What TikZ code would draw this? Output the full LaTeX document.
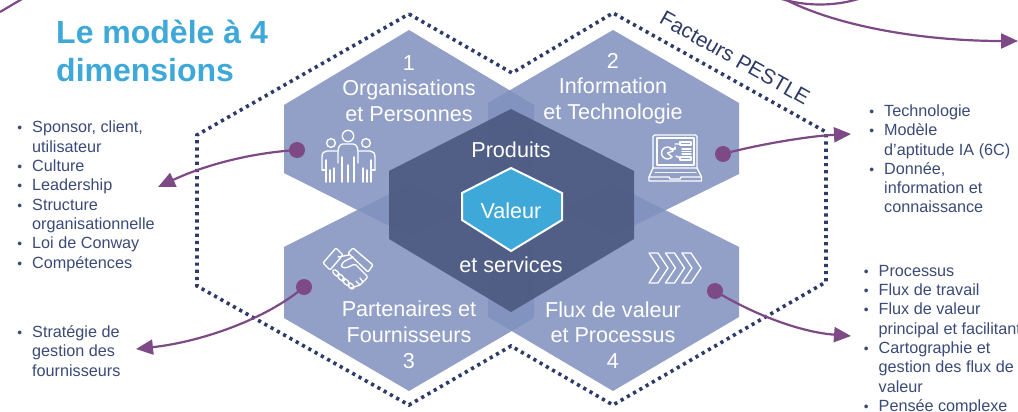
\documentclass[tikz,border=0pt]{standalone}
\usepackage{fontspec}
\setmainfont{Liberation Sans}
\usetikzlibrary{arrows.meta}
\definecolor{hexlight}{HTML}{8191BF}
\definecolor{hexdark}{HTML}{49577F}
\definecolor{hexblue}{HTML}{3EA9D8}
\definecolor{dotnavy}{HTML}{2E3A68}
\definecolor{listnavy}{HTML}{3B4A78}
\definecolor{plum}{HTML}{7D4A85}
\newcommand{\bul}{\leavevmode\llap{\scalebox{.85}{\textbullet}\hspace{10pt}}}
\tikzset{
  lighthex/.style={fill=hexlight,fill opacity=.86},
  darkhex/.style={fill=hexdark,fill opacity=.88},
  hexlabel/.style={text=white,inner sep=0pt,align=center,font=\fontsize{21.6}{25.8}\selectfont},
  listtext/.style={text=listnavy,inner sep=0pt,anchor=north west,align=left,font=\fontsize{16.2}{19.3}\selectfont},
  pin/.style={circle,fill=plum,draw=none,minimum size=16pt,inner sep=0pt},
  link/.style={draw=plum,line width=2.2pt},
  linkarrow/.style={link,-{Triangle[length=17pt,width=15pt]}},
  icon/.style={draw=white,line width=1.35pt,line join=round,line cap=round}
}
\begin{document}
\begin{tikzpicture}[x=1pt,y=-1pt]
\useasboundingbox (0,0) rectangle (1018,412);
\clip (0,0) rectangle (1018,412);
\fill[white] (0,0) rectangle (1018,412);

% hexagons
\path[lighthex] (409,30) -- (534,105) -- (534,173) -- (409,236) -- (284,173) -- (284,105) -- cycle;
\path[lighthex] (613,30) -- (739,103) -- (739,174) -- (613,236) -- (488,174) -- (488,103) -- cycle;
\path[lighthex] (409,184) -- (534,247) -- (534,318) -- (409,391) -- (284,318) -- (284,247) -- cycle;
\path[lighthex] (613,184) -- (739,247) -- (739,317) -- (613,391) -- (488,317) -- (488,247) -- cycle;
\path[darkhex] (511,109) -- (634,171) -- (634,239) -- (511,312) -- (389,239) -- (389,171) -- cycle;
\path[fill=hexblue,draw=white,line width=2pt] (511,168) -- (562,193) -- (562,220) -- (511,251) -- (462,220) -- (462,193) -- cycle;

% dotted boundary
\draw[dotnavy,line width=3.6pt,dash pattern=on 3.2pt off 4pt]
  (409,14) -- (512,73) -- (613,13) -- (826,132) -- (826,282) -- (613,405) -- (511,346) -- (409,405) -- (197,286) -- (197,135) -- cycle;

% texts
\node[text=hexblue,inner sep=0pt,anchor=north west,align=left,font=\fontsize{32}{38}\selectfont\bfseries] (title) at (56,20) {Le modèle à 4\\dimensions};
\node[hexlabel] (h1) at (409,88.5) {1\\Organisations\\et Personnes};
\node[hexlabel] (h2) at (613,88.5) {2\\Information\\et Technologie};
\node[hexlabel] (h3) at (409,335) {Partenaires et\\Fournisseurs\\3};
\node[hexlabel] (h4) at (613,335) {Flux de valeur\\et Processus\\4};
\node[hexlabel] (produits) at (511,149.5) {Produits};
\node[hexlabel] (valeur) at (511,211) {Valeur};
\node[hexlabel] (services) at (511,264.5) {et services};
\node[text=dotnavy,inner sep=0pt,rotate=-29.5,font=\fontsize{21}{24}\selectfont] (pestle) at (735,58) {Facteurs PESTLE};

\node[listtext] (l1) at (32,121) {\bul Sponsor, client,\\utilisateur\\\bul Culture\\\bul Leadership\\\bul Structure\\organisationnelle\\\bul Loi de Conway\\\bul Compétences};
\node[listtext] (l3) at (32,325.5) {\bul Stratégie de\\gestion des\\fournisseurs};
\node[listtext] (l2) at (884,104.5) {\bul Technologie\\\bul Modèle\\d’aptitude IA (6C)\\\bul Donnée,\\information et\\connaissance};
\node[listtext] (l4) at (878.5,265) {\bul Processus\\\bul Flux de travail\\\bul Flux de valeur\\principal et facilitant\\\bul Cartographie et\\gestion des flux de\\valeur\\\bul Pensée complexe};

% connectors
\node[pin] (d1) at (297,150) {};
\node[pin] (d2) at (723,154) {};
\node[pin] (d3) at (304,287) {};
\node[pin] (d4) at (715,291) {};
\coordinate (e1) at (158,187);
\coordinate (e2) at (851,134);
\coordinate (e3) at (136,349);
\coordinate (e4) at (851,336);
\draw[linkarrow] (d1.center) .. controls (250,153) and (205,165) .. (e1);
\draw[linkarrow] (d2.center) .. controls (760,144) and (810,136) .. (e2);
\draw[linkarrow] (d3.center) .. controls (265,320) and (200,342) .. (e3);
\draw[linkarrow] (d4.center) .. controls (755,315) and (800,332) .. (e4);

\coordinate (t1) at (772,-8);
\coordinate (t2) at (1018,41);
\coordinate (t3) at (768,-6);
\coordinate (t4) at (872,-6);
\coordinate (t5) at (0,12);
\coordinate (t6) at (22,-1);
\draw[linkarrow] (t1) .. controls (825,25) and (920,41) .. (t2);
\draw[link] (t3) .. controls (800,8) and (840,8) .. (t4);
\draw[link] (t5) -- (t6);

% icon: people
\begin{scope}[icon]
  \draw (348,136) circle (5.7pt);
  \draw (331,143) circle (4.4pt);
  \draw (366,143) circle (4.4pt);
  \draw (338,163) -- (338,152) .. controls (338,147) and (340,144) .. (343,144) -- (353,144) .. controls (356,144) and (358,147) .. (358,152) -- (358,163);
  \draw (342,157) -- (342,182) (348,165) -- (348,182) (354,157) -- (354,182);
  \draw (322,170) -- (322,157) .. controls (322,153) and (324,151) .. (327,151) -- (337,151);
  \draw (375,170) -- (375,157) .. controls (375,153) and (373,151) .. (370,151) -- (359,151);
  \draw (326,160) -- (326,182) (330,170) -- (330,182) (334,168) -- (334,182);
  \draw (371,160) -- (371,182) (367,170) -- (367,182) (363,168) -- (363,182);
  \draw (322,170) -- (326,170) (371,170) -- (375,170);
\end{scope}

% icon: laptop
\begin{scope}[icon]
  \draw[rounded corners=1.5pt] (653,168) -- (653,135) -- (697,135) -- (697,168);
  \draw (657,138) rectangle (694,165);
  \draw (653,168) -- (697,168) -- (701.5,177) -- (701.5,181) -- (649,181) -- (649,177) -- cycle;
  \draw (649,177) -- (669,177) -- (670,179) -- (680,179) -- (681,177) -- (701.5,177);
  \draw[line width=1pt,dash pattern=on 1.5pt off 1pt] (655,172) -- (696,172);
  \draw (667.5,153) +(20:6pt) arc (20:320:6pt) -- (667.5,153) -- cycle;
  \draw (670,149) -- (675,149) -- (675,147);
  \draw (680,142) rectangle (691,145);
  \draw (680,157) rectangle (691,160);
  \draw (675,144) -- (680,144) (676,156) -- (680,158);
  \draw (682,149) -- (691,149) (682,151.5) -- (691,151.5) (682,154) -- (691,154);
\end{scope}

% icon: handshake
\begin{scope}[icon]
  \draw[rounded corners=1pt] (323,263) -- (336,248) -- (343,255) -- (330,270) -- cycle;
  \draw[rounded corners=1pt] (353,248) -- (373,265) -- (368,272) -- (348,253) -- cycle;
  \draw (338,257) -- (349,255);
  \draw[rounded corners=1.5pt] (353,257) -- (343,262) -- (341,267) -- (346,268) -- (355,264) -- (368,277) -- (363,282);
  \draw (363,282) -- (360,278) (363,282) -- (360,285) -- (356,281) (360,285) -- (351,288);
  \draw[rotate around={-45:(336,273)}] (336,273) ellipse (4pt and 2.2pt);
  \draw[rotate around={-45:(341,277.5)}] (341,277.5) ellipse (4.5pt and 2.2pt);
  \draw[rotate around={-45:(346,282)}] (346,282) ellipse (4.5pt and 2.2pt);
  \draw[rotate around={-45:(351,286)}] (351,286) ellipse (3.5pt and 2.2pt);
\end{scope}

% icon: chevrons
\begin{scope}[icon]
  \draw (649,253) -- (658,253) -- (668,268) -- (658,283) -- (649,283) -- (659,268) -- cycle;
  \draw (665.5,253) -- (674.5,253) -- (684.5,268) -- (674.5,283) -- (665.5,283) -- (675.5,268) -- cycle;
  \draw (682,253) -- (691,253) -- (701,268) -- (691,283) -- (682,283) -- (692,268) -- cycle;
\end{scope}
\end{tikzpicture}
\end{document}
